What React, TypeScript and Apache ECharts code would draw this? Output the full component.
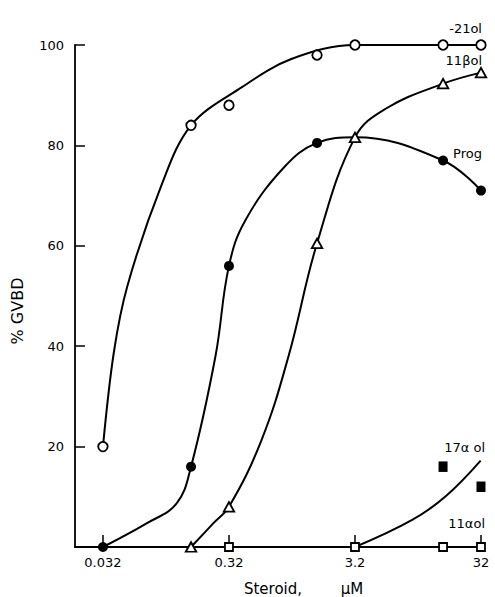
import React, { useEffect, useRef } from 'react';
import * as echarts from 'echarts';

// Axis ticks
const tickConc = [0.032, 0.32, 3.2, 32];
const tickLabels = ['0.032', '0.32', '3.2', '32'];
const yTickValues = [20, 40, 60, 80, 100];

// -21ol (open circles)
const ol21Conc = [0.032, 0.16, 0.32, 1.6, 3.2, 16, 32];
const ol21Gvbd = [20, 84, 88, 98, 100, 100, 100];
const ol21CurveConc = [0.032, 0.039, 0.05, 0.092, 0.16, 0.4, 1.0, 3.2, 16, 32];
const ol21CurveGvbd = [20, 38.7, 52, 71.7, 84, 91.5, 97.2, 100, 100, 100];

// Prog (filled circles)
const progConc = [0.032, 0.16, 0.32, 1.6, 16, 32];
const progGvbd = [0, 16, 56, 80.5, 77, 71];
const progCurveConc = [0.032, 0.071, 0.123, 0.16, 0.25, 0.32, 0.43, 0.88, 1.6, 3.2, 16, 32];
const progCurveGvbd = [0, 4.7, 8.7, 16, 38, 56, 65, 75.7, 80.5, 81.6, 77, 71];

// 11βol (open triangles)
const b11Conc = [0.16, 0.32, 1.6, 3.2, 16, 32];
const b11Gvbd = [0, 8, 60.5, 81.6, 92.3, 94.5];
const b11CurveConc = [0.16, 0.24, 0.32, 0.58, 0.95, 1.6, 3.2, 5.6, 16, 32];
const b11CurveGvbd = [0, 4.7, 8, 21.3, 38, 60.5, 81.6, 87.3, 92.3, 94.5];

// 17αol (filled squares)
const a17Conc = [16, 32];
const a17Gvbd = [16, 12];
const a17CurveConc = [3.2, 9.1, 16.8, 31.8];
const a17CurveGvbd = [0, 5.4, 10.1, 17.2];

// 11αol (open squares)
const a11Conc = [0.32, 3.2, 16, 32];
const a11Gvbd = [0, 0, 0, 0];

const FONT = 'DejaVu Sans';

const pts = (xs: number[], ys: number[]) => xs.map((c, i) => [Math.log10(c), ys[i]]);

const curve = (xs: number[], ys: number[], smooth: number) => ({
  type: 'line',
  data: pts(xs, ys),
  smooth,
  symbol: 'none',
  showSymbol: false,
  clip: false,
  silent: true,
  z: 2,
  lineStyle: { color: '#000', width: 2 },
});

const markers = (xs: number[], ys: number[], symbol: string, size: any, filled: boolean) => ({
  type: 'scatter',
  data: pts(xs, ys),
  symbol,
  symbolSize: size,
  clip: false,
  z: 3,
  itemStyle: {
    color: filled ? '#000' : '#fff',
    borderColor: '#000',
    borderWidth: filled ? 0 : 1.8,
    opacity: 1,
  },
});

const txt = (text: string, x: number, y: number, align: string, size = 13, rotation = 0) => ({
  type: 'text',
  x,
  y,
  rotation,
  style: {
    text,
    fill: '#000',
    font: `${size}px "${FONT}"`,
    textAlign: align,
    textVerticalAlign: 'middle',
  },
});

export default function App() {
  const ref = useRef<HTMLDivElement>(null);
  useEffect(() => {
    if (!ref.current) return;
    const chart = echarts.init(ref.current, null, { renderer: 'svg' });
    const tickLogs = tickConc.map((c) => Math.log10(c));
    chart.setOption({
      animation: false,
      backgroundColor: '#fff',
      grid: { left: 75, right: 12, top: 45, bottom: 50, containLabel: false },
      xAxis: {
        type: 'value',
        min: Math.log10(0.0192),
        max: Math.log10(33.2),
        splitLine: { show: false },
        axisLine: { show: true, onZero: false, lineStyle: { color: '#000', width: 1.8 } },
        axisTick: {
          show: true,
          inside: true,
          length: 12,
          customValues: tickLogs,
          lineStyle: { color: '#000', width: 1.5 },
        },
        axisLabel: {
          customValues: tickLogs,
          margin: 9,
          color: '#000',
          fontFamily: FONT,
          fontSize: 13,
          formatter: (v: number) => {
            let best = 0;
            tickLogs.forEach((t, i) => {
              if (Math.abs(t - v) < Math.abs(tickLogs[best] - v)) best = i;
            });
            return tickLabels[best];
          },
        },
      },
      yAxis: {
        type: 'value',
        min: 0,
        max: 100,
        splitLine: { show: false },
        axisLine: { show: true, onZero: false, lineStyle: { color: '#000', width: 1.8 } },
        axisTick: {
          show: true,
          inside: true,
          length: 10,
          customValues: yTickValues,
          lineStyle: { color: '#000', width: 1.5 },
        },
        axisLabel: {
          customValues: yTickValues,
          margin: 11,
          color: '#000',
          fontFamily: FONT,
          fontSize: 13,
        },
      },
      series: [
        curve(ol21CurveConc, ol21CurveGvbd, 0.35),
        curve(progCurveConc, progCurveGvbd, 0.4),
        curve(b11CurveConc, b11CurveGvbd, 0.4),
        curve(a17CurveConc, a17CurveGvbd, 0.4),
        curve(a11Conc, a11Gvbd, 0),
        markers(ol21Conc, ol21Gvbd, 'circle', 9.5, false),
        markers(progConc, progGvbd, 'circle', 10, true),
        markers(b11Conc, b11Gvbd, 'triangle', [10.5, 9.5], false),
        markers(a17Conc, a17Gvbd, 'rect', [9, 10.5], true),
        markers(a11Conc, a11Gvbd, 'rect', 8, false),
      ],
      graphic: [
        txt('-21ol', 482, 28, 'right'),
        txt('11βol', 482, 60, 'right'),
        txt('Prog', 482, 153, 'right'),
        txt('17α ol', 485, 447, 'right'),
        txt('11αol', 485, 523, 'right'),
        txt('% GVBD', 17, 311, 'center', 16, Math.PI / 2),
        txt('Steroid,', 273, 589, 'center', 15),
        txt('µM', 352, 589, 'center', 15),
      ],
    });
    return () => chart.dispose();
  }, []);
  return (
    <div
      ref={ref}
      style={{ position: 'fixed', left: 0, top: 0, width: 495, height: 597, background: '#fff' }}
    />
  );
}
